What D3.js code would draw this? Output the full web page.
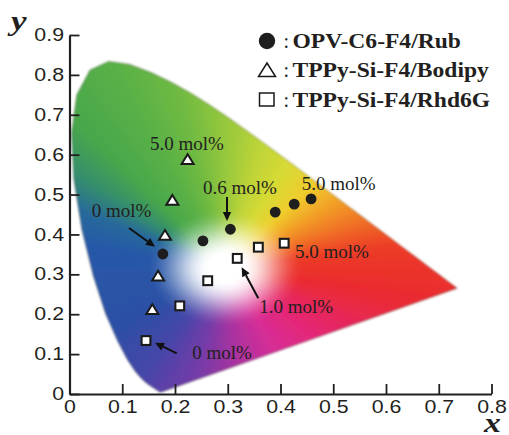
<!DOCTYPE html>
<html><head><meta charset="utf-8">
<script src="https://cdn.jsdelivr.net/npm/d3@7"></script>
<style>body{margin:0;background:#fff}svg{display:block}</style>
</head><body>
<svg id="chart" width="509" height="435"></svg>
<script>
// ---- data ----
const xTicks = [0, 0.1, 0.2, 0.3, 0.4, 0.5, 0.6, 0.7, 0.8];
const xTickLabels = ["0", "0.1", "0.2", "0.3", "0.4", "0.5", "0.6", "0.7", "0.8"];
const yTicks = [0, 0.1, 0.2, 0.3, 0.4, 0.5, 0.6, 0.7, 0.8, 0.9];
const yTickLabels = ["0", "0.1", "0.2", "0.3", "0.4", "0.5", "0.6", "0.7", "0.8", "0.9"];

const seriesNames = ["OPV-C6-F4/Rub", "TPPy-Si-F4/Bodipy", "TPPy-Si-F4/Rhd6G"];
const rubX = [0.177, 0.253, 0.305, 0.390, 0.426, 0.458];
const rubY = [0.351, 0.384, 0.413, 0.456, 0.476, 0.489];
const bodX = [0.157, 0.168, 0.181, 0.195, 0.224];
const bodY = [0.212, 0.296, 0.398, 0.486, 0.588];
const rhdX = [0.145, 0.209, 0.262, 0.318, 0.358, 0.407];
const rhdY = [0.134, 0.221, 0.284, 0.340, 0.368, 0.378];

// CIE 1931 spectral locus, 380-700 nm
const locusX = [0.1741,0.1740,0.1738,0.1736,0.1733,0.1730,0.1726,0.1721,0.1714,0.1703,0.1689,0.1669,0.1644,0.1611,0.1566,0.1510,0.1440,0.1355,0.1241,
 0.1096,0.0913,0.0687,0.0454,0.0235,0.0082,0.0039,0.0139,0.0389,0.0743,0.1142,0.1547,0.1929,0.2296,0.2658,0.3016,0.3373,0.3731,0.4087,0.4441,
 0.4788,0.5125,0.5448,0.5752,0.6029,0.6270,0.6482,0.6658,0.6801,0.6915,0.7006,0.7079,0.7140,0.7190,0.7230,0.7260,0.7283,0.7300,0.7311,0.7320,
 0.7327,0.7334,0.7340,0.7344,0.7346,0.7347];
const locusY = [0.0050,0.0050,0.0049,0.0049,0.0048,0.0048,0.0048,0.0048,0.0051,0.0058,0.0069,0.0086,0.0109,0.0138,0.0177,0.0227,0.0297,0.0399,0.0578,
 0.0868,0.1327,0.2007,0.2950,0.4127,0.5384,0.6548,0.7502,0.8120,0.8338,0.8262,0.8059,0.7816,0.7543,0.7243,0.6923,0.6589,0.6245,0.5896,0.5547,
 0.5202,0.4866,0.4544,0.4242,0.3965,0.3725,0.3514,0.3340,0.3197,0.3083,0.2993,0.2920,0.2859,0.2809,0.2770,0.2740,0.2717,0.2700,0.2689,0.2680,
 0.2673,0.2666,0.2660,0.2656,0.2654,0.2653];

// annotations (data coordinates)
const labelText = ["5.0 mol%", "0.6 mol%", "5.0 mol%", "0 mol%", "5.0 mol%", "1.0 mol%", "0 mol%"];
const labelX = [0.1526, 0.2531, 0.4402, 0.0421, 0.4275, 0.3598, 0.2328];
const labelY = [0.6117, 0.5014, 0.5114, 0.4437, 0.3402, 0.2023, 0.0877];
const arrowFromX = [0.1128, 0.2986, 0.2032, 0.3579];
const arrowFromY = [0.4161, 0.4939, 0.1020, 0.2399];
const arrowToX = [0.1621, 0.2986, 0.1621, 0.3264];
const arrowToY = [0.3693, 0.4337, 0.1286, 0.3176];

// ---- drawing ----
const ink = "#231f20";
const svg = d3.select("#chart");
const x = d3.scaleLinear([0, 0.8], [69.5, 491.5]);
const y = d3.scaleLinear([0, 0.9], [394, 35]);

// chromaticity background
const hueStops = [
 [-30,230,40,90],[-12,234,42,48],[10,236,60,38],[25,240,115,40],[40,242,165,40],[52,238,205,45],
 [66,215,218,52],[78,190,212,56],[90,150,200,60],[101,112,186,66],[113,88,176,70],[128,72,166,76],[140,52,142,108],
 [152,40,105,155],[168,40,88,168],[215,42,80,165],[240,70,70,168],[258,115,60,168],[275,170,50,160],
 [295,215,45,150],[315,228,40,120],[330,230,40,90]];
const W = [0.295, 0.315];
function hueColor(a) {
  while (a < -30) a += 360;
  while (a >= 330) a -= 360;
  for (let i = 0; i < hueStops.length - 1; i++) {
    const s0 = hueStops[i], s1 = hueStops[i + 1];
    if (a >= s0[0] && a <= s1[0]) {
      const t = (a - s0[0]) / (s1[0] - s0[0]);
      return [s0[1] + (s1[1] - s0[1]) * t, s0[2] + (s1[2] - s0[2]) * t, s0[3] + (s1[3] - s0[3]) * t];
    }
  }
  return [255, 255, 255];
}
function smooth(e0, e1, v) { const t = Math.max(0, Math.min(1, (v - e0) / (e1 - e0))); return t * t * (3 - 2 * t); }

const px0 = Math.floor(x(0)), px1 = Math.ceil(x(0.76)), py0 = Math.floor(y(0.86)), py1 = Math.ceil(y(0));
const cw = px1 - px0, ch = py1 - py0;
const canvas = document.createElement("canvas");
canvas.width = cw; canvas.height = ch;
const ctx = canvas.getContext("2d");
const img = ctx.createImageData(cw, ch);
for (let j = 0; j < ch; j++) {
  for (let i = 0; i < cw; i++) {
    const dx = x.invert(px0 + i + 0.5), dy = y.invert(py0 + j + 0.5);
    const vx = dx - W[0], vy = dy - W[1];
    const d = Math.hypot(vx, vy);
    const a = Math.atan2(vy, vx) * 180 / Math.PI;
    const c = hueColor(a);
    const s = smooth(0.03, 0.15, d);
    const k = (j * cw + i) * 4;
    img.data[k] = 255 + (c[0] - 255) * s;
    img.data[k + 1] = 255 + (c[1] - 255) * s;
    img.data[k + 2] = 255 + (c[2] - 255) * s;
    img.data[k + 3] = 255;
  }
}
ctx.putImageData(img, 0, 0);

const locusPts = locusX.map((v, i) => [x(v), y(locusY[i])]);
const locusPath = d3.line().curve(d3.curveLinearClosed)(locusPts);
const defs = svg.append("defs");
defs.append("clipPath").attr("id", "locusClip").append("path").attr("d", locusPath);
defs.append("filter").attr("id", "soft").attr("x", "-5%").attr("y", "-5%").attr("width", "110%").attr("height", "110%")
  .append("feGaussianBlur").attr("stdDeviation", 0.8);
const bg = svg.append("g").attr("filter", "url(#soft)");
bg.append("g").attr("clip-path", "url(#locusClip)")
  .append("image").attr("x", px0).attr("y", py0).attr("width", cw).attr("height", ch)
  .attr("href", canvas.toDataURL());
bg.append("path").attr("d", locusPath).attr("fill", "none")
  .attr("stroke", "rgba(50,55,35,0.45)").attr("stroke-width", 1);

// axes
const xAxis = svg.append("g").attr("transform", `translate(0,${y(0)})`)
  .call(d3.axisBottom(x).tickValues(xTicks).tickFormat((d, i) => xTickLabels[i]).tickSizeInner(-10).tickSizeOuter(0).tickPadding(7));
const yAxis = svg.append("g").attr("transform", `translate(${x(0)},0)`)
  .call(d3.axisLeft(y).tickValues(yTicks).tickFormat((d, i) => yTickLabels[i]).tickSizeInner(-10).tickSizeOuter(0).tickPadding(5.5));
[xAxis, yAxis].forEach(g => {
  g.select(".domain").attr("stroke", ink).attr("stroke-width", 2.2);
  g.selectAll(".tick line").attr("stroke", ink).attr("stroke-width", 1.8);
  g.selectAll(".tick text").attr("fill", ink).style("font-family", "'Liberation Sans', Arial, sans-serif").style("font-size", "17.5px");
});
xAxis.selectAll(".tick text").attr("transform", "scale(1.22,1)");
yAxis.selectAll(".tick text").attr("x", -5.5 / 1.22).attr("transform", "scale(1.22,1)");

// axis titles
svg.append("text").attr("transform", "translate(11,30) scale(1.25,1)").text("y")
  .attr("fill", ink).style("font-family", "'Liberation Serif', 'Times New Roman', serif")
  .style("font-weight", "bold").style("font-style", "italic").style("font-size", "28px");
svg.append("text").attr("transform", "translate(484,432) scale(1.25,1)").text("x")
  .attr("fill", ink).style("font-family", "'Liberation Serif', 'Times New Roman', serif")
  .style("font-weight", "bold").style("font-style", "italic").style("font-size", "27px");

// arrows
const arrows = svg.append("g");
arrowFromX.forEach((v, i) => {
  const x0 = x(v), y0 = y(arrowFromY[i]), x1 = x(arrowToX[i]), y1 = y(arrowToY[i]);
  const ang = Math.atan2(y1 - y0, x1 - x0);
  const hl = 9, hw = 4.2;
  const bx = x1 - hl * Math.cos(ang), by = y1 - hl * Math.sin(ang);
  arrows.append("line").attr("x1", x0).attr("y1", y0).attr("x2", bx).attr("y2", by)
    .attr("stroke", "#111").attr("stroke-width", 2);
  const nx = -Math.sin(ang), ny = Math.cos(ang);
  arrows.append("path").attr("d", `M${x1},${y1}L${bx + nx * hw},${by + ny * hw}L${bx - nx * hw},${by - ny * hw}Z`).attr("fill", "#111");
});

// labels
svg.append("g").selectAll("text").data(labelText).join("text")
  .attr("x", (d, i) => x(labelX[i])).attr("y", (d, i) => y(labelY[i]))
  .text(d => d).attr("fill", ink)
  .style("font-family", "'Liberation Serif', 'Times New Roman', serif").style("font-size", "19px");

// markers
const triPath = "M0,-5.2L6,4.6L-6,4.6Z";
svg.append("g").selectAll("path").data(bodX).join("path")
  .attr("transform", (d, i) => `translate(${x(d)},${y(bodY[i])})`)
  .attr("d", triPath).attr("fill", "#fff").attr("stroke", "#1a1a1a").attr("stroke-width", 2).attr("stroke-linejoin", "miter");
svg.append("g").selectAll("rect").data(rhdX).join("rect")
  .attr("x", (d) => x(d) - 4.4).attr("y", (d, i) => y(rhdY[i]) - 4.4)
  .attr("width", 8.8).attr("height", 8.8)
  .attr("fill", "#fff").attr("stroke", "#1a1a1a").attr("stroke-width", 2.1);
svg.append("g").selectAll("circle").data(rubX).join("circle")
  .attr("cx", d => x(d)).attr("cy", (d, i) => y(rubY[i])).attr("r", 5.4).attr("fill", "#1e1e1e");

// legend
const legend = svg.append("g");
const rows = [41, 70, 99.5];
legend.append("circle").attr("cx", 267).attr("cy", rows[0]).attr("r", 8.2).attr("fill", "#1e1e1e");
legend.append("path").attr("d", `M267,${rows[1] - 7}L275.5,${rows[1] + 6.5}L258.5,${rows[1] + 6.5}Z`)
  .attr("fill", "none").attr("stroke", "#1a1a1a").attr("stroke-width", 1.5);
legend.append("rect").attr("x", 259.5).attr("y", rows[2] - 6.5).attr("width", 14.5).attr("height", 13)
  .attr("fill", "none").attr("stroke", "#1a1a1a").attr("stroke-width", 1.5);
seriesNames.forEach((name, i) => {
  legend.append("text").attr("x", 283.5).attr("y", rows[i] + 7).text(":")
    .attr("fill", ink).style("font-family", "'Liberation Serif', 'Times New Roman', serif").style("font-size", "20px");
  legend.append("text").attr("transform", `translate(292.5,${rows[i] + 7}) scale(1.15,1)`).text(name)
    .attr("fill", ink).style("font-family", "'Liberation Serif', 'Times New Roman', serif")
    .style("font-weight", "bold").style("font-size", "20.5px");
});
</script>
</body></html>
